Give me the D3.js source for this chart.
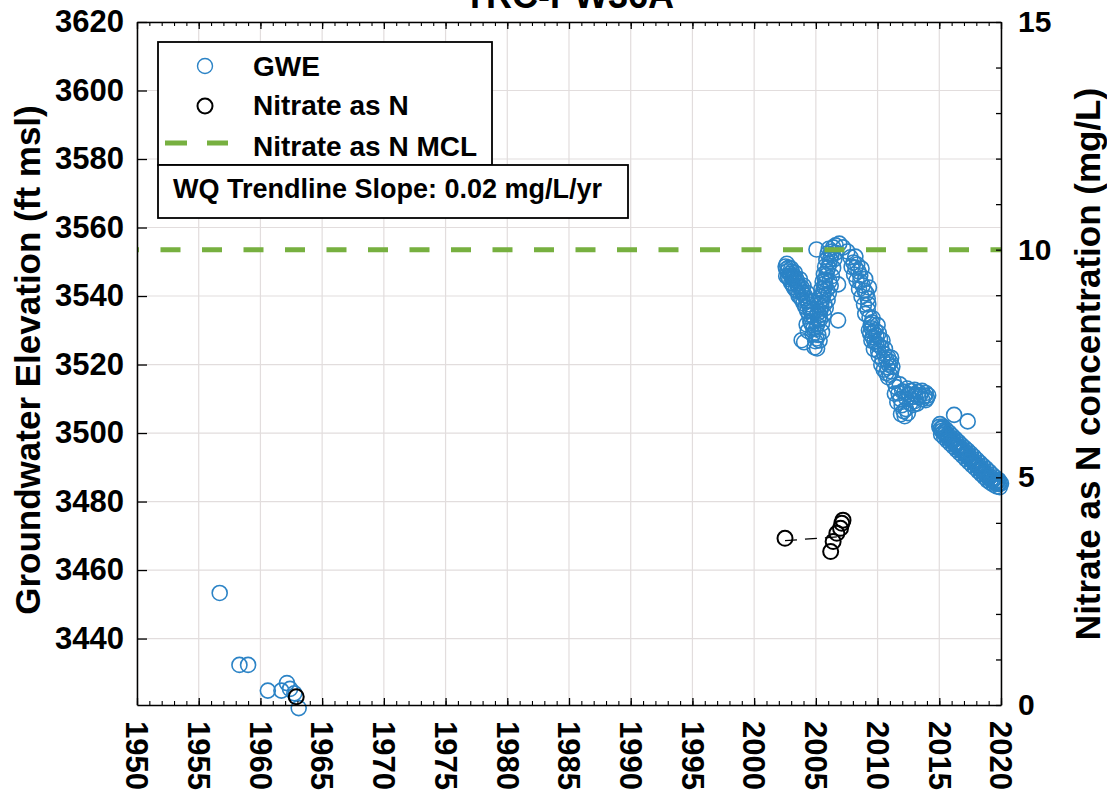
<!DOCTYPE html>
<html>
<head>
<meta charset="utf-8">
<script src="https://cdn.jsdelivr.net/npm/d3@7"></script>
<style>
  body { margin: 0; background: #fff; }
  svg text { font-family: "Liberation Sans", Arial, Helvetica, sans-serif; font-weight: bold; fill: #000; }
</style>
</head>
<body>
<svg id="chart" width="1107" height="792"></svg>
<script>
// ---- data -------------------------------------------------------------
const wellName = "TRC-PW36A";
const yearDomain = [1950, 2020];
const elevDomain = [3420.6, 3620];
const no3Domain = [0, 15];
const yearTicks = d3.range(1950, 2021, 5);
const yearMinorTicks = d3.range(1950, 2021, 1);
const elevTicks = [3440, 3460, 3480, 3500, 3520, 3540, 3560, 3580, 3600, 3620];
const no3Ticks = d3.range(0, 16, 1);
const no3Labels = [0, 5, 10, 15];
const mclValue = 10;
const trendSlope = 0.02;

// groundwater elevation (ft msl): [decimal year, elevation]
const gweEarly = [
  [1956.7, 3453.3], [1958.3, 3432.3], [1959.0, 3432.3], [1960.6, 3424.8],
  [1961.7, 3424.8], [1962.15, 3427.0], [1962.4, 3425.3], [1962.75, 3424.0],
  [1963.1, 3419.7]
];
const gweDecline2003 = [
  [2002.55, 3548.6], [2002.6, 3547.8], [2002.7, 3547.2], [2002.8, 3548.3],
  [2002.9, 3546.5], [2003.0, 3546.0], [2003.05, 3547.1], [2003.15, 3545.1],
  [2003.2, 3546.0], [2003.3, 3544.6], [2003.4, 3545.1], [2003.45, 3543.7],
  [2003.5, 3544.3], [2003.6, 3542.8], [2003.8, 3541.9], [2003.85, 3542.5],
  [2003.9, 3541.0], [2004.1, 3540.2], [2004.2, 3539.3], [2004.3, 3538.4],
  [2004.4, 3537.6], [2004.55, 3536.4], [2004.6, 3535.5], [2004.7, 3534.4],
  [2002.75, 3545.5], [2003.1, 3543.6], [2003.5, 3541.4], [2003.9, 3538.8],
  [2004.3, 3535.6], [2004.6, 3532.2],
  [2002.6, 3545.8], [2002.85, 3544.9], [2003.0, 3543.8], [2003.2, 3542.6],
  [2003.35, 3541.9], [2003.6, 3540.1], [2003.75, 3539.5], [2004.0, 3537.9],
  [2004.15, 3536.8], [2004.45, 3534.5], [2004.7, 3531.5],
  [2002.65, 3549.4], [2003.0, 3548.0], [2003.3, 3546.8], [2003.7, 3544.9],
  [2004.0, 3543.0], [2004.3, 3540.9], [2004.6, 3538.5], [2004.8, 3536.0],
  [2004.25, 3531.7], [2003.85, 3527.1], [2004.05, 3526.5], [2004.75, 3528.8],
  [2004.9, 3525.0], [2004.95, 3526.8], [2004.55, 3532.6], [2004.35, 3529.8]
];
const gweRecovery2005 = [
  [2005.0, 3530.3], [2005.1, 3531.7], [2005.2, 3533.2], [2005.3, 3534.4],
  [2005.35, 3535.5], [2005.45, 3536.7], [2005.45, 3538.1], [2005.5, 3539.0],
  [2005.6, 3540.2], [2005.6, 3541.4], [2005.7, 3542.5], [2005.75, 3543.7],
  [2005.75, 3544.8], [2005.85, 3546.0], [2005.9, 3547.2], [2006.0, 3548.3],
  [2006.1, 3549.5], [2006.15, 3550.7], [2006.25, 3551.8], [2006.3, 3553.0],
  [2006.4, 3554.2], [2006.6, 3554.8], [2006.9, 3555.3], [2007.2, 3554.2],
  [2005.9, 3541.9], [2006.1, 3544.3], [2005.7, 3537.6], [2005.35, 3533.2],
  [2005.2, 3528.6], [2005.05, 3527.6],
  [2005.15, 3535.0], [2005.25, 3537.5], [2005.35, 3539.8], [2005.45, 3542.0],
  [2005.55, 3544.2], [2005.65, 3546.4], [2005.75, 3548.6], [2005.85, 3550.6],
  [2005.95, 3552.4], [2006.05, 3553.8],
  [2005.5, 3532.0], [2005.65, 3534.6], [2005.8, 3536.5], [2005.95, 3538.8],
  [2006.05, 3540.8], [2006.2, 3543.0], [2006.3, 3545.8], [2006.4, 3548.2],
  [2006.5, 3550.8], [2006.6, 3552.6],
  [2005.3, 3527.0], [2005.5, 3529.5], [2005.1, 3524.7], [2004.8, 3530.5],
  [2005.05, 3553.6], [2006.8, 3543.4], [2006.8, 3532.9]
];
const gweDecline2007 = [
  [2007.55, 3553.0], [2007.8, 3551.3], [2008.05, 3549.8], [2008.2, 3548.3],
  [2008.35, 3549.2], [2008.45, 3547.2], [2008.6, 3546.0], [2008.6, 3544.3],
  [2008.8, 3543.1], [2008.95, 3541.6], [2009.1, 3540.8], [2009.2, 3539.3],
  [2009.25, 3537.6], [2009.2, 3536.1], [2009.35, 3533.8], [2009.45, 3531.7],
  [2009.5, 3530.6], [2009.65, 3529.4], [2009.6, 3528.0], [2009.75, 3526.8],
  [2009.9, 3528.5], [2010.05, 3525.9], [2010.2, 3527.4], [2010.3, 3525.0],
  [2010.05, 3523.9], [2010.55, 3523.0], [2010.7, 3521.5], [2010.85, 3522.1],
  [2011.05, 3520.7], [2010.8, 3519.2], [2011.1, 3518.0], [2010.85, 3516.3],
  [2011.3, 3515.1], [2011.5, 3513.4], [2011.7, 3511.6], [2011.85, 3509.9],
  [2011.95, 3508.1], [2012.1, 3506.4], [2012.2, 3504.9], [2012.0, 3512.2],
  [2012.35, 3509.9], [2012.5, 3511.3], [2012.65, 3508.7], [2012.8, 3510.5],
  [2013.05, 3511.3], [2013.3, 3510.5], [2013.45, 3511.1], [2013.6, 3509.9],
  [2013.0, 3509.3], [2012.2, 3511.9], [2011.8, 3514.2],
  [2013.8, 3510.8], [2014.0, 3510.2], [2013.9, 3509.6],
  [2009.4, 3529.0], [2009.55, 3532.3], [2009.8, 3530.0], [2010.1, 3529.2],
  [2010.4, 3521.4], [2010.6, 3524.6], [2011.2, 3519.4], [2011.0, 3517.0],
  [2007.9, 3548.5], [2008.1, 3546.3], [2008.3, 3544.6], [2008.5, 3542.0],
  [2008.7, 3539.8], [2008.9, 3537.5], [2009.0, 3534.8], [2008.2, 3551.5],
  [2008.7, 3548.0], [2009.0, 3545.0], [2009.3, 3542.5],
  [2009.3, 3530.0], [2009.5, 3527.0], [2009.7, 3524.5], [2009.9, 3526.0],
  [2010.1, 3522.5], [2010.3, 3520.0], [2010.5, 3518.5], [2010.7, 3517.5],
  [2010.9, 3520.0], [2011.1, 3522.0], [2010.0, 3531.5], [2010.4, 3527.0],
  [2009.6, 3533.5],
  [2012.4, 3513.0], [2012.7, 3512.3], [2013.0, 3512.6], [2013.3, 3512.0],
  [2013.6, 3512.3], [2013.9, 3511.7], [2014.1, 3511.0], [2012.9, 3508.2],
  [2013.2, 3508.6], [2012.3, 3507.0], [2011.9, 3505.5], [2012.45, 3505.8],
  [2011.6, 3509.0], [2011.4, 3511.5]
];
const gweDecline2015 = [
  [2015.0, 3501.8], [2015.1, 3501.2], [2015.2, 3500.6], [2015.25, 3501.5],
  [2015.35, 3500.2], [2015.45, 3499.6], [2015.5, 3500.3], [2015.6, 3499.2],
  [2015.7, 3498.6], [2015.8, 3499.0], [2015.9, 3498.1], [2016.0, 3497.6],
  [2016.1, 3498.2], [2016.2, 3497.0], [2016.3, 3496.6], [2016.4, 3497.1],
  [2016.5, 3496.0], [2016.6, 3495.4], [2016.7, 3495.9], [2016.8, 3494.9],
  [2016.9, 3494.5], [2017.0, 3494.9], [2017.1, 3493.8], [2017.2, 3493.3],
  [2017.3, 3493.9], [2017.4, 3492.8], [2017.5, 3492.3], [2017.6, 3492.7],
  [2017.7, 3491.8], [2017.8, 3491.2], [2017.9, 3491.6], [2018.0, 3490.6],
  [2018.1, 3490.1], [2018.2, 3490.5], [2018.3, 3489.6], [2018.4, 3489.0],
  [2018.5, 3489.5], [2018.6, 3488.4], [2018.7, 3487.9], [2018.8, 3488.3],
  [2018.9, 3487.4], [2019.0, 3486.9], [2019.1, 3487.3], [2019.2, 3486.5],
  [2019.3, 3486.0], [2019.4, 3486.4], [2019.5, 3485.7], [2019.6, 3485.3],
  [2019.7, 3485.8], [2019.8, 3485.1], [2019.9, 3485.5], [2020.0, 3485.3],
  [2015.05, 3502.6], [2015.3, 3501.9], [2015.55, 3501.0], [2015.8, 3500.1],
  [2016.05, 3499.2], [2016.3, 3498.3], [2016.55, 3497.4], [2016.8, 3496.5],
  [2017.05, 3495.7], [2017.3, 3494.9], [2017.55, 3494.0], [2017.8, 3493.1],
  [2018.05, 3492.2], [2018.3, 3491.3], [2018.55, 3490.4], [2018.8, 3489.6],
  [2019.05, 3488.7], [2019.3, 3487.8], [2019.55, 3487.0], [2019.8, 3486.3],
  [2015.15, 3499.6], [2015.4, 3498.7], [2015.65, 3497.8], [2015.9, 3496.9],
  [2016.15, 3496.0], [2016.4, 3495.1], [2016.65, 3494.2], [2016.9, 3493.3],
  [2017.15, 3492.4], [2017.4, 3491.5], [2017.65, 3490.6], [2017.9, 3489.8],
  [2018.15, 3488.9], [2018.4, 3488.0], [2018.65, 3487.1], [2018.9, 3486.2],
  [2019.15, 3485.5], [2019.4, 3484.9], [2019.65, 3484.4], [2019.9, 3484.2],
  [2016.2, 3505.3], [2017.3, 3503.4]
];

// nitrate as N (mg/L): [decimal year, concentration]
const nitrate = [
  [1962.9, 0.18], [2002.5, 3.66], [2006.2, 3.37], [2006.4, 3.59],
  [2006.7, 3.77], [2007.0, 3.88], [2007.1, 3.99], [2007.2, 4.06]
];
// water-quality trendline end points
const trendYears = [2002.5, 2007.2];
const trendValues = [3.61, 3.70];

// ---- drawing ----------------------------------------------------------
const svg = d3.select("#chart");
const plot = { left: 137, right: 1001, top: 22, bottom: 705 };
const blue = "#2b83c6", green = "#77b040", gridColor = "#e2dddd";

const x = d3.scaleLinear().domain(yearDomain).range([plot.left, plot.right]);
const yL = d3.scaleLinear().domain(elevDomain).range([plot.bottom, plot.top]);
const yR = d3.scaleLinear().domain(no3Domain).range([plot.bottom, plot.top]);

// grid
const grid = svg.append("g").attr("stroke", gridColor).attr("stroke-width", 1.2);
grid.selectAll("line.v").data(yearTicks).join("line")
  .attr("x1", d => x(d)).attr("x2", d => x(d))
  .attr("y1", plot.top).attr("y2", plot.bottom);
grid.selectAll("line.h").data(elevTicks).join("line")
  .attr("x1", plot.left).attr("x2", plot.right)
  .attr("y1", d => yL(d)).attr("y2", d => yL(d));

// groundwater elevation
const gwe = [].concat(gweEarly, gweDecline2003, gweRecovery2005, gweDecline2007, gweDecline2015);
svg.append("g").selectAll("circle").data(gwe).join("circle")
  .attr("cx", d => x(d[0])).attr("cy", d => yL(d[1])).attr("r", 7.5)
  .attr("fill", "none").attr("stroke", blue).attr("stroke-width", 1.6);

// nitrate trendline
const trend = trendYears.map((t, i) => [t, trendValues[i]]);
svg.append("path").datum(trend)
  .attr("d", d3.line().x(d => x(d[0])).y(d => yR(d[1])))
  .attr("fill", "none").attr("stroke", "#000").attr("stroke-width", 1.3)
  .attr("stroke-dasharray", "12,8");

// nitrate samples
svg.append("g").selectAll("circle").data(nitrate).join("circle")
  .attr("cx", d => x(d[0])).attr("cy", d => yR(d[1])).attr("r", 7.5)
  .attr("fill", "none").attr("stroke", "#000").attr("stroke-width", 2);

// MCL line
svg.append("line")
  .attr("x1", x(yearDomain[0])).attr("x2", x(yearDomain[1]))
  .attr("y1", yR(mclValue)).attr("y2", yR(mclValue))
  .attr("stroke", green).attr("stroke-width", 5)
  .attr("stroke-dasharray", "20,21.5").attr("stroke-dashoffset", 18);

// axes
function styleAxis(g) {
  g.attr("font-family", null).attr("font-size", null);
  g.select(".domain").attr("stroke", "#000").attr("stroke-width", 1.5);
  g.selectAll(".tick line").attr("stroke", "#000").attr("stroke-width", 1.3);
}
function minorAxis(g) {
  g.select(".domain").remove();
  g.selectAll(".tick line").attr("stroke", "#000").attr("stroke-width", 1.1);
  g.selectAll(".tick text").remove();
}

svg.append("g").attr("transform", `translate(0,${plot.bottom})`)
  .call(d3.axisBottom(x).tickValues(yearMinorTicks).tickSize(-4).tickFormat(""))
  .call(minorAxis);
svg.append("g").attr("transform", `translate(0,${plot.top})`)
  .call(d3.axisTop(x).tickValues(yearMinorTicks).tickSize(-4).tickFormat(""))
  .call(minorAxis);

const bottomAxis = svg.append("g").attr("transform", `translate(0,${plot.bottom})`)
  .call(d3.axisBottom(x).tickValues(yearTicks).tickSize(-7).tickSizeOuter(0).tickFormat(d3.format("d")))
  .call(styleAxis);
bottomAxis.selectAll(".tick text")
  .attr("font-size", 31)
  .attr("transform", "rotate(90)")
  .attr("x", 16).attr("y", 0).attr("dy", "0.36em")
  .attr("text-anchor", "start");

svg.append("g").attr("transform", `translate(0,${plot.top})`)
  .call(d3.axisTop(x).tickValues(yearTicks).tickSize(-7).tickSizeOuter(0).tickFormat(""))
  .call(styleAxis);

const leftAxis = svg.append("g").attr("transform", `translate(${plot.left},0)`)
  .call(d3.axisLeft(yL).tickValues(elevTicks).tickSize(-10).tickSizeOuter(0).tickPadding(13)
    .tickFormat(d3.format("d")))
  .call(styleAxis);
leftAxis.selectAll(".tick text").attr("font-size", 31);

const rightAxis = svg.append("g").attr("transform", `translate(${plot.right},0)`)
  .call(d3.axisRight(yR).tickValues(no3Ticks).tickSize(-5).tickSizeOuter(0).tickPadding(17)
    .tickFormat(d => no3Labels.includes(d) ? d : ""))
  .call(styleAxis);
rightAxis.selectAll(".tick text").attr("font-size", 30);

// title and axis titles
svg.append("text").attr("x", (plot.left + plot.right) / 2).attr("y", 8)
  .attr("text-anchor", "middle").attr("font-size", 36).text(wellName);
svg.append("text").attr("transform", "translate(40,360) rotate(-90)")
  .attr("text-anchor", "middle").attr("font-size", 35).text("Groundwater Elevation (ft msl)");
svg.append("text").attr("transform", "translate(1100,364) rotate(-90)")
  .attr("text-anchor", "middle").attr("font-size", 35).text("Nitrate as N concentration (mg/L)");

// legend
const legend = svg.append("g");
legend.append("rect").attr("x", 158).attr("y", 42).attr("width", 334).attr("height", 123)
  .attr("fill", "#fff").attr("stroke", "#000").attr("stroke-width", 1.8);
legend.append("circle").attr("cx", 205).attr("cy", 66).attr("r", 7.5)
  .attr("fill", "none").attr("stroke", blue).attr("stroke-width", 1.4);
legend.append("text").attr("x", 253).attr("y", 76).attr("font-size", 28).text("GWE");
legend.append("circle").attr("cx", 205).attr("cy", 106).attr("r", 7.5)
  .attr("fill", "none").attr("stroke", "#000").attr("stroke-width", 2);
legend.append("text").attr("x", 253).attr("y", 115).attr("font-size", 28).text("Nitrate as N");
legend.append("line").attr("x1", 165).attr("x2", 228).attr("y1", 143).attr("y2", 143)
  .attr("stroke", green).attr("stroke-width", 5).attr("stroke-dasharray", "22,20");
legend.append("text").attr("x", 253).attr("y", 156).attr("font-size", 28).text("Nitrate as N MCL");

legend.append("rect").attr("x", 158).attr("y", 165).attr("width", 470).attr("height", 53)
  .attr("fill", "#fff").attr("stroke", "#000").attr("stroke-width", 1.8);
legend.append("text").attr("x", 173).attr("y", 198).attr("font-size", 27)
  .text(`WQ Trendline Slope: ${trendSlope.toFixed(2)} mg/L/yr`);
</script>
</body>
</html>
